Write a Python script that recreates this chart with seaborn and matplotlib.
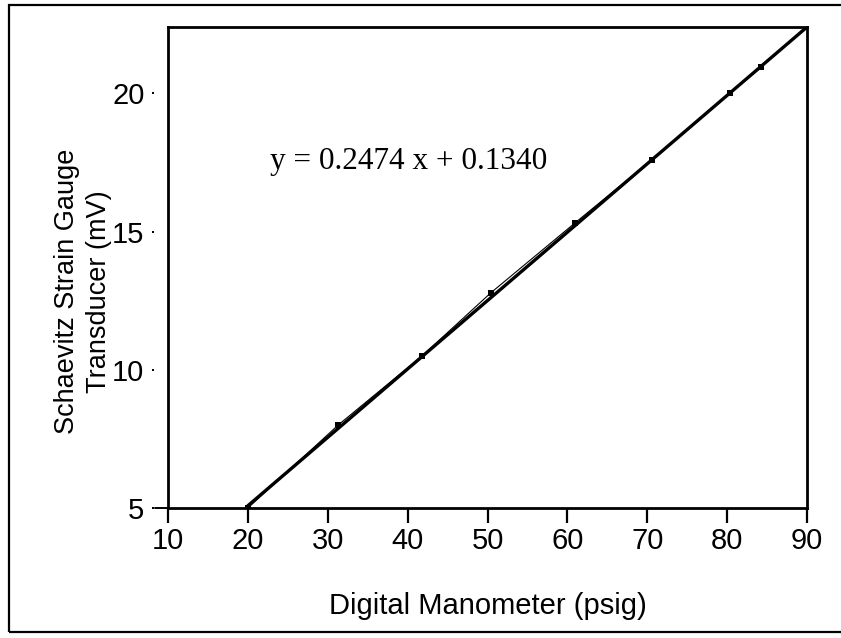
import matplotlib
matplotlib.use("Agg")
import matplotlib.pyplot as plt
import matplotlib.transforms as mtransforms
from matplotlib.patches import Rectangle
import seaborn as sns
import pandas as pd
import numpy as np

# Data
manometer_psig = [20.0, 31.3, 41.8, 50.4, 60.9, 70.6, 80.3, 84.3]
transducer_mv = [5.0, 8.0, 10.5, 12.78, 15.3, 17.6, 20.0, 20.95]
slope = 0.2474
intercept = 0.1340
fit_x = [20.0, 90.0]
x_ticks = [10, 20, 30, 40, 50, 60, 70, 80, 90]
y_ticks = [5, 10, 15, 20]

sns.set_theme(style="white")
plt.rcParams["font.family"] = ["Liberation Sans", "DejaVu Sans"]
plt.rcParams["text.color"] = "black"
plt.rcParams["axes.labelcolor"] = "black"
plt.rcParams["xtick.color"] = "black"
plt.rcParams["ytick.color"] = "black"

fig = plt.figure(figsize=(8.41, 6.38), dpi=100)
ax = fig.add_axes([0.1998, 0.2038, 0.7598, 0.7539])

df = pd.DataFrame({"x": manometer_psig, "y": transducer_mv})
fit_df = pd.DataFrame({"x": fit_x, "y": [slope * v + intercept for v in fit_x]})

sns.lineplot(data=df, x="x", y="y", ax=ax, color="black", linewidth=0.8,
             marker="s", markersize=4.5, markeredgewidth=0, sort=False)
sns.lineplot(data=fit_df, x="x", y="y", ax=ax, color="black", linewidth=2.4)

ax.set_xlim(10, 90)
ax.set_ylim(5, 0.2474 * 90 + 0.134)
ax.set_xticks(x_ticks)
ax.set_yticks(y_ticks)
ax.set_xticklabels([str(t) for t in x_ticks], fontsize=21)
ax.set_yticklabels([str(t) for t in y_ticks], fontsize=21)

for s in ax.spines.values():
    s.set_color("black")
    s.set_linewidth(2)
    s.set_visible(True)

ax.tick_params(axis="x", direction="out", length=11, width=1.6, color="black",
               pad=3, bottom=True, labelcolor="black")
ax.tick_params(axis="y", length=0, pad=17, left=True, labelcolor="black")

# y tick dots detached from spine
trans = mtransforms.blended_transform_factory(ax.transAxes, ax.transData)
ax.plot([-0.0235] * len(y_ticks), y_ticks, "s", color="black", markersize=1.8,
        markeredgewidth=0, transform=trans, clip_on=False)
ax.plot([-0.02, 0], [5, 5], color="black", linewidth=1.4, transform=trans, clip_on=False)

ax.set_xlabel("Digital Manometer (psig)", fontsize=21, labelpad=26, color="black")
ax.set_ylabel("Schaevitz Strain Gauge\nTransducer (mV)", fontsize=19.5,
              color="black", linespacing=1.3)
ax.yaxis.set_label_coords(-0.088, 0.45)

ax.text(22.8, 17.55, "y = 0.2474 x + 0.1340", fontsize=22.5, color="black",
        family=["Liberation Serif", "DejaVu Serif"], ha="left", va="center")

# figure border
fig.patches.append(Rectangle((9 / 841, 1 - 632 / 638), 1.2, (632 - 5) / 638,
                             transform=fig.transFigure, fill=False,
                             edgecolor="black", linewidth=1.6, clip_on=False))

fig.savefig("out.png", dpi=100)
